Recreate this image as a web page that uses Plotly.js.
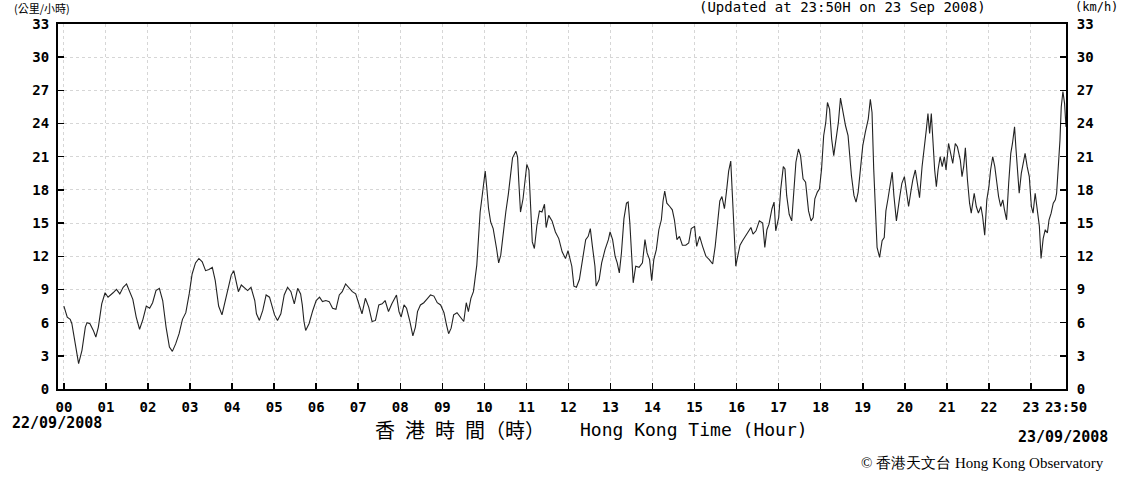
<!DOCTYPE html>
<html>
<head>
<meta charset="utf-8">
<script src="https://cdn.plot.ly/plotly-3.0.1.min.js"></script>
<style>html,body{margin:0;padding:0;background:#fff;}#chart{width:1128px;height:479px;}</style>
</head>
<body>
<div id="chart"></div>
<script>
// Hong Kong time (hours since 00:00 on 22/09/2008) and wind speed (km/h)
const hours = [
0.00,0.08,0.15,0.19,0.27,0.35,0.43,0.51,0.55,0.62,0.70,0.76,0.82,0.90,0.98,1.05,1.17,1.25,1.33,1.41,1.49,1.56,1.64,1.72,1.80,1.88,1.96,2.04,2.11,2.19,2.27,2.35,2.43,2.51,2.58,2.66,2.74,2.82,2.90,2.98,3.05,3.13,3.21,3.29,3.37,3.45,3.53,3.60,3.68,3.76,
3.82,3.90,3.98,4.04,4.09,4.15,4.22,4.29,4.37,4.45,4.54,4.58,4.65,4.73,4.81,4.89,4.93,5.01,5.08,5.16,5.24,5.32,5.40,5.48,5.56,5.63,5.67,5.71,5.75,5.83,5.92,6.00,6.08,6.15,6.23,6.31,6.39,6.47,6.55,6.62,6.70,6.78,6.86,6.94,7.02,7.09,7.17,7.25,7.33,7.41,7.49,7.57,7.64,7.72,7.80,
7.91,7.97,8.02,8.09,8.15,8.23,8.30,8.36,8.41,8.48,8.56,8.63,8.72,8.80,8.88,8.96,9.04,9.10,9.15,9.21,9.27,9.35,9.43,9.51,9.57,9.62,9.68,9.74,9.78,9.82,9.86,9.90,9.94,9.98,10.02,10.06,10.10,10.15,10.21,10.29,10.34,10.39,10.45,10.51,10.57,10.62,10.67,10.75,10.79,10.82,10.86,10.92,10.97,11.01,11.06,11.09,11.14,11.19,11.25,11.31,11.37,11.43,11.47,11.53,11.61,11.69,11.77,11.85,11.93,11.99,
12.08,12.13,12.19,12.26,12.31,12.37,12.41,12.47,12.52,12.57,12.63,12.66,12.73,12.79,12.87,12.95,12.99,13.05,13.11,13.16,13.21,13.26,13.32,13.38,13.42,13.46,13.50,13.54,13.60,13.68,13.76,13.82,13.87,13.93,13.98,14.03,14.09,14.15,14.21,14.25,14.29,14.34,14.41,14.47,14.52,14.58,14.64,14.71,14.79,14.86,14.92,15.00,15.05,15.12,15.19,15.27,15.35,15.43,15.49,15.55,15.60,15.65,15.71,15.76,15.81,15.86,15.90,15.94,15.98,
16.02,16.08,16.14,16.20,16.28,16.34,16.39,16.46,16.54,16.62,16.67,16.72,16.77,16.84,16.89,16.93,17.00,17.05,17.11,17.15,17.19,17.25,17.31,17.35,17.41,17.47,17.52,17.58,17.64,17.71,17.77,17.82,17.86,17.92,17.97,18.02,18.07,18.12,18.16,18.21,18.26,18.31,18.37,18.42,18.47,18.53,18.59,18.65,18.69,18.73,18.79,18.84,18.89,18.95,19.00,19.06,19.13,19.18,19.22,19.26,19.30,19.34,19.40,19.46,19.51,19.55,19.60,19.66,19.70,19.74,19.80,
19.88,19.93,19.99,20.04,20.09,20.15,20.19,20.25,20.30,20.35,20.41,20.46,20.51,20.55,20.59,20.63,20.67,20.71,20.75,20.79,20.84,20.89,20.94,20.98,21.04,21.09,21.14,21.20,21.25,21.32,21.36,21.40,21.44,21.49,21.54,21.58,21.65,21.70,21.75,21.81,21.85,21.90,21.95,22.00,22.04,22.09,22.14,22.19,22.23,22.28,22.33,22.37,22.42,22.47,22.52,22.56,22.61,22.64,22.68,22.72,22.77,22.82,22.86,22.91,22.96,23.01,23.05,23.10,23.15,23.20,23.24,23.29,23.34,23.39,23.43,23.48,23.53,23.58,23.61,23.65,23.69,23.72,23.76,23.80,23.833
];
const speeds = [
7.5,6.5,6.3,5.9,4.1,2.3,3.5,5.6,6.0,5.9,5.3,4.7,5.6,7.7,8.7,8.3,8.7,9.0,8.6,9.2,9.5,8.9,8.1,6.5,5.4,6.3,7.5,7.3,7.8,8.9,9.1,8.0,5.6,3.8,3.4,4.1,5.0,6.3,6.9,8.6,10.4,11.4,11.8,11.5,10.7,10.8,11.0,9.8,7.5,6.7,
7.7,9.2,10.3,10.7,9.8,8.8,9.4,9.2,8.9,9.2,8.0,6.8,6.2,7.1,8.5,8.3,7.7,6.7,6.2,6.8,8.5,9.2,8.8,7.7,9.1,8.6,7.6,6.1,5.3,5.9,7.1,8.0,8.3,7.9,8.0,7.9,7.3,7.2,8.5,8.8,9.5,9.1,8.8,8.6,7.6,6.8,8.2,7.4,6.1,6.2,7.6,7.7,8.0,7.0,7.7,
8.5,7.0,6.5,7.6,7.3,6.1,4.8,5.6,7.0,7.6,7.8,8.1,8.5,8.4,7.8,7.6,6.9,5.8,5.0,5.5,6.7,6.9,6.5,6.1,7.8,7.0,8.2,8.8,10.0,11.2,13.6,16.0,17.2,18.7,19.7,18.1,16.3,15.1,14.5,12.7,11.4,12.1,14.2,16.0,17.6,19.3,20.9,21.5,21.0,18.7,16.0,17.2,18.7,20.3,19.8,17.2,13.3,12.7,14.8,16.1,16.0,16.7,14.6,15.7,15.2,14.2,13.6,12.4,11.8,12.5,
11.1,9.3,9.2,9.9,11.1,12.3,13.5,13.8,14.5,12.9,11.1,9.3,9.9,11.4,12.6,13.5,14.2,13.5,12.0,11.4,10.5,12.3,15.4,16.8,16.9,15.0,12.3,9.6,11.1,11.0,11.4,13.5,12.3,11.7,9.8,11.7,12.6,14.4,15.3,17.0,17.9,16.8,16.5,16.2,15.3,13.5,13.8,13.0,13.0,13.2,14.5,14.7,12.9,13.8,12.9,12.0,11.7,11.3,12.9,15.3,17.0,17.4,16.3,17.9,19.7,20.6,17.0,14.7,11.1,
11.9,13.0,13.4,13.8,14.3,14.6,14.0,14.3,15.2,15.0,12.8,14.4,14.9,16.3,16.9,14.3,15.5,18.1,20.1,19.9,17.5,15.8,15.2,17.5,20.5,21.7,21.1,19.0,18.7,16.1,15.2,15.5,17.2,17.8,18.1,19.9,22.9,24.1,25.9,25.3,22.6,21.1,22.9,24.1,26.3,25.0,23.8,22.9,20.8,19.3,17.5,16.9,17.8,19.9,22.0,23.2,24.4,26.2,25.0,19.9,15.5,12.8,11.9,13.4,13.7,16.1,17.2,18.7,19.6,17.5,15.2,
17.4,18.6,19.2,17.7,16.5,18.0,18.9,19.8,18.6,17.3,20.1,21.6,23.4,24.9,23.1,24.9,21.9,19.8,18.3,19.8,21.0,20.1,21.0,19.8,22.2,21.3,20.4,22.2,21.9,20.7,19.2,20.1,21.8,18.9,16.8,15.9,17.7,16.5,15.9,16.5,15.6,13.9,17.1,18.3,19.8,21.0,20.1,18.6,17.4,16.5,17.1,16.2,15.3,18.6,21.3,22.2,23.7,21.9,19.2,17.7,19.5,20.7,21.3,20.1,19.2,16.5,15.9,17.7,15.9,14.7,11.8,13.6,14.4,14.1,15.3,15.9,16.8,17.1,17.7,20.1,22.5,25.5,26.9,25.8,23.7
];
const hourTicks = [0,1,2,3,4,5,6,7,8,9,10,11,12,13,14,15,16,17,18,19,20,21,22,23,23.8333];
const hourLabels = ["00","01","02","03","04","05","06","07","08","09","10","11","12","13","14","15","16","17","18","19","20","21","22","23","23:50"];
const speedTicks = [0,3,6,9,12,15,18,21,24,27,30,33];
const speedLabels = ["0","3","6","9","12","15","18","21","24","27","30","33"];

const tickFont = {family:'DejaVu Sans Mono', size:14, color:'#000', weight:'bold'};
const gridColor = '#d6d6d6';

const trace = {
  x: hours, y: speeds, type:'scatter', mode:'lines',
  line:{color:'#222', width:1.1},
  hoverinfo:'skip'
};

// plot area: x 58..1066 px, y 24..389 px
const layout = {
  width:1128, height:479,
  margin:{l:58, r:62, t:24, b:90, pad:0},
  paper_bgcolor:'#fff', plot_bgcolor:'#fff',
  showlegend:false,
  xaxis:{
    range:[-0.14, 23.8333], tickmode:'array', tickvals:hourTicks, ticktext:hourLabels,
    ticks:'inside', ticklen:6, tickwidth:1.5, tickcolor:'#000',
    showline:true, linecolor:'#000', linewidth:2, mirror:true,
    showgrid:true, gridcolor:gridColor, griddash:'dot', gridwidth:1,
    zeroline:false, tickfont:tickFont, ticklabelstandoff:4, fixedrange:true
  },
  yaxis:{
    range:[0,33], tickmode:'array', tickvals:speedTicks, ticktext:speedLabels,
    ticks:'inside', ticklen:6, tickwidth:1.5, tickcolor:'#000',
    showline:true, linecolor:'#000', linewidth:2, mirror:true,
    showgrid:true, gridcolor:gridColor, griddash:'dot', gridwidth:1,
    zeroline:false, tickfont:tickFont, ticklabelstandoff:4, fixedrange:true
  },
  yaxis2:{
    overlaying:'y', side:'right', anchor:'x',
    range:[0,33], tickmode:'array', tickvals:speedTicks, ticktext:speedLabels,
    ticks:'inside', ticklen:6, tickwidth:1.5, tickcolor:'#000',
    showline:true, linecolor:'#000', linewidth:2,
    showgrid:false, zeroline:false, tickfont:tickFont, ticklabelstandoff:6, fixedrange:true
  },
  annotations:[
    {text:'(公里/小時)', xref:'paper', yref:'paper', x:-0.0456, y:1.0438, xanchor:'left', yanchor:'middle', showarrow:false,
     font:{family:'Noto Sans CJK TC', size:11, color:'#000'}},
    {text:'(Updated at 23:50H on 23 Sep 2008)', xref:'paper', yref:'paper', x:0.9226, y:1.0466, xanchor:'right', yanchor:'middle', showarrow:false,
     font:{family:'DejaVu Sans Mono', size:14, color:'#000'}},
    {text:'(km/h)', xref:'paper', yref:'paper', x:1.0536, y:1.0466, xanchor:'right', yanchor:'middle', showarrow:false,
     font:{family:'DejaVu Sans Mono', size:12, color:'#000'}},
    {text:'22/09/2008', xref:'paper', yref:'paper', x:-0.0476, y:-0.0932, xanchor:'left', yanchor:'middle', showarrow:false,
     font:{family:'DejaVu Sans Mono', size:15, color:'#000', weight:'bold'}},
    {text:'23/09/2008', xref:'paper', yref:'paper', x:1.0437, y:-0.1315, xanchor:'right', yanchor:'middle', showarrow:false,
     font:{family:'DejaVu Sans Mono', size:15, color:'#000', weight:'bold'}},
    {text:'香\u2002港\u2002時\u2002間（時）', xref:'paper', yref:'paper', x:0.3988, y:-0.1123, xanchor:'center', yanchor:'middle', showarrow:false,
     font:{family:'Noto Sans CJK TC', size:20, color:'#000'}},
    {text:'Hong Kong Time (Hour)', xref:'paper', yref:'paper', x:0.5159, y:-0.1123, xanchor:'left', yanchor:'middle', showarrow:false,
     font:{family:'DejaVu Sans Mono', size:18, color:'#000'}},
    {text:'© 香港天文台 Hong Kong Observatory', xref:'paper', yref:'paper', x:1.0397, y:-0.2027, xanchor:'right', yanchor:'middle', showarrow:false,
     font:{family:'Liberation Serif', size:15, color:'#000'}}
  ]
};

const axisHolder = {x:[null], y:[null], yaxis:'y2', type:'scatter', mode:'lines', hoverinfo:'skip', showlegend:false};

Plotly.newPlot('chart', [trace, axisHolder], layout, {staticPlot:true, displayModeBar:false});
</script>
</body>
</html>
